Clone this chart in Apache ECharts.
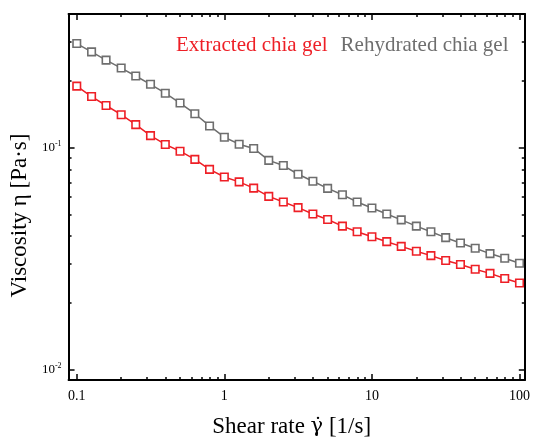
<!DOCTYPE html>
<html>
<head>
<meta charset="utf-8">
<script src="https://cdn.jsdelivr.net/npm/echarts@6/dist/echarts.min.js"></script>
<style>
html,body{margin:0;padding:0;background:#fff;}
#chart{width:533px;height:443px;}
</style>
</head>
<body>
<div id="chart"></div>
<script>
// Shear rate [1/s]
var shearRate = [0.1, 0.126, 0.158, 0.2, 0.251, 0.316, 0.398, 0.501, 0.631, 0.794,
                 1, 1.26, 1.58, 2, 2.51, 3.16, 3.98, 5.01, 6.31, 7.94,
                 10, 12.6, 15.8, 20, 25.1, 31.6, 39.8, 50.1, 63.1, 79.4, 100];
// Viscosity [Pa·s]
var extractedGel = [0.190, 0.1705, 0.1554, 0.1412, 0.1274, 0.1137, 0.1037, 0.0967, 0.0888, 0.0801,
                    0.0740, 0.0703, 0.0659, 0.0605, 0.0571, 0.0538, 0.0504, 0.0476, 0.0444, 0.0419,
                    0.0398, 0.0378, 0.0360, 0.0342, 0.0327, 0.0311, 0.0298, 0.0284, 0.0272, 0.0258, 0.0246];
var rehydratedGel = [0.2956, 0.2711, 0.2489, 0.2292, 0.2111, 0.1937, 0.1766, 0.1594, 0.1427, 0.1257,
                     0.1118, 0.1040, 0.0995, 0.0879, 0.0833, 0.0761, 0.0708, 0.0657, 0.0615, 0.0571,
                     0.0536, 0.0504, 0.0474, 0.0444, 0.0419, 0.0394, 0.0373, 0.0353, 0.0334, 0.0318, 0.0302];
var seriesNames = ['Extracted chia gel', 'Rehydrated chia gel'];
var xMajorTicks = [0.1, 1, 10, 100];
var xMinorTicks = [0.2, 0.3, 0.4, 0.5, 0.6, 0.7, 0.8, 0.9, 2, 3, 4, 5, 6, 7, 8, 9, 20, 30, 40, 50, 60, 70, 80, 90];
var yMajorTicks = [0.01, 0.1];
var yMinorTicks = [0.02, 0.03, 0.04, 0.05, 0.06, 0.07, 0.08, 0.09, 0.2, 0.3];
var yTickLabels = {'0.01': '{b|10}{s|-2}', '0.1': '{b|10}{s|-1}'};

var RED = '#ee1f26', GRAY = '#6e6e6e';
var FONT = 'Liberation Serif';
var X_MIN = 0.088, X_MAX = 108.6, Y_MIN = 0.00899, Y_MAX = 0.4018;

function pairs(xs, ys) { return xs.map(function (x, i) { return [x, ys[i]]; }); }

function xAxisDef(pos, ticks, len, showLine, showLabel, name) {
  return {
    type: 'log', logBase: 10, position: pos, min: X_MIN, max: X_MAX,
    name: name || '', nameLocation: 'middle', nameGap: 35,
    nameTextStyle: {fontFamily: FONT, fontSize: 23, color: '#000', padding: [0, 10, 0, 0],
                    rich: {g: {fontFamily: 'DejaVu Serif', fontSize: 21, color: '#000'}}},
    axisLine: {show: showLine, onZero: false, lineStyle: {color: '#000', width: 2}},
    axisTick: {show: true, inside: true, length: len, customValues: ticks, lineStyle: {color: '#000', width: 1.5}},
    minorTick: {show: false},
    axisLabel: {show: showLabel, customValues: ticks, margin: 9, fontFamily: FONT, fontSize: 14, color: '#000',
                formatter: function (v) { return String(v); }},
    splitLine: {show: false}
  };
}
function yAxisDef(pos, ticks, len, showLine, showLabel, name) {
  return {
    type: 'log', logBase: 10, position: pos, min: Y_MIN, max: Y_MAX,
    name: name || '', nameLocation: 'middle', nameGap: 37,
    nameTextStyle: {fontFamily: FONT, fontSize: 23, color: '#000', padding: [0, 37, 0, 0]},
    axisLine: {show: showLine, onZero: false, lineStyle: {color: '#000', width: 2}},
    axisTick: {show: true, inside: true, length: len, customValues: ticks, lineStyle: {color: '#000', width: 1.5}},
    minorTick: {show: false},
    axisLabel: {show: showLabel, customValues: ticks, margin: 7,
                formatter: function (v) { return yTickLabels[String(v)] || String(v); },
                rich: {
                  b: {fontFamily: FONT, fontSize: 13, color: '#000', lineHeight: 16, verticalAlign: 'middle'},
                  s: {fontFamily: FONT, fontSize: 8, color: '#000', lineHeight: 16, verticalAlign: 'top'}
                }},
    splitLine: {show: false}
  };
}

var chart = echarts.init(document.getElementById('chart'));
chart.setOption({
  animation: false,
  backgroundColor: '#fff',
  grid: {left: 68, right: 7, top: 14, bottom: 60},
  legend: {
    left: 166, top: 30, itemWidth: 0, itemHeight: 0, itemGap: 8, icon: 'none',
    data: [
      {name: seriesNames[0], icon: 'none', textStyle: {color: RED, fontFamily: FONT, fontSize: 21}},
      {name: seriesNames[1], icon: 'none', textStyle: {color: GRAY, fontFamily: FONT, fontSize: 21}}
    ]
  },
  xAxis: [
    xAxisDef('bottom', xMajorTicks, 6, true, true, 'Shear rate {g|\u03b3\u0307} [1/s]'),
    xAxisDef('bottom', xMinorTicks, 3, false, false),
    xAxisDef('top', xMajorTicks, 6, true, false),
    xAxisDef('top', xMinorTicks, 3, false, false)
  ],
  yAxis: [
    yAxisDef('left', yMajorTicks, 6, true, true, 'Viscosity \u03b7 [Pa\u00b7s]'),
    yAxisDef('left', yMinorTicks, 3, false, false),
    yAxisDef('right', yMajorTicks, 6, true, false),
    yAxisDef('right', yMinorTicks, 3, false, false)
  ],
  series: [
    {
      name: seriesNames[0], type: 'line', xAxisIndex: 0, yAxisIndex: 0,
      data: pairs(shearRate, extractedGel),
      symbol: 'rect', symbolSize: 7.5, showAllSymbol: true,
      lineStyle: {color: RED, width: 1.5},
      itemStyle: {color: '#fff', borderColor: RED, borderWidth: 1.6}
    },
    {
      name: seriesNames[1], type: 'line', xAxisIndex: 0, yAxisIndex: 0,
      data: pairs(shearRate, rehydratedGel),
      symbol: 'rect', symbolSize: 7.5, showAllSymbol: true,
      lineStyle: {color: GRAY, width: 1.5},
      itemStyle: {color: '#fff', borderColor: GRAY, borderWidth: 1.6}
    }
  ]
});
</script>
</body>
</html>
